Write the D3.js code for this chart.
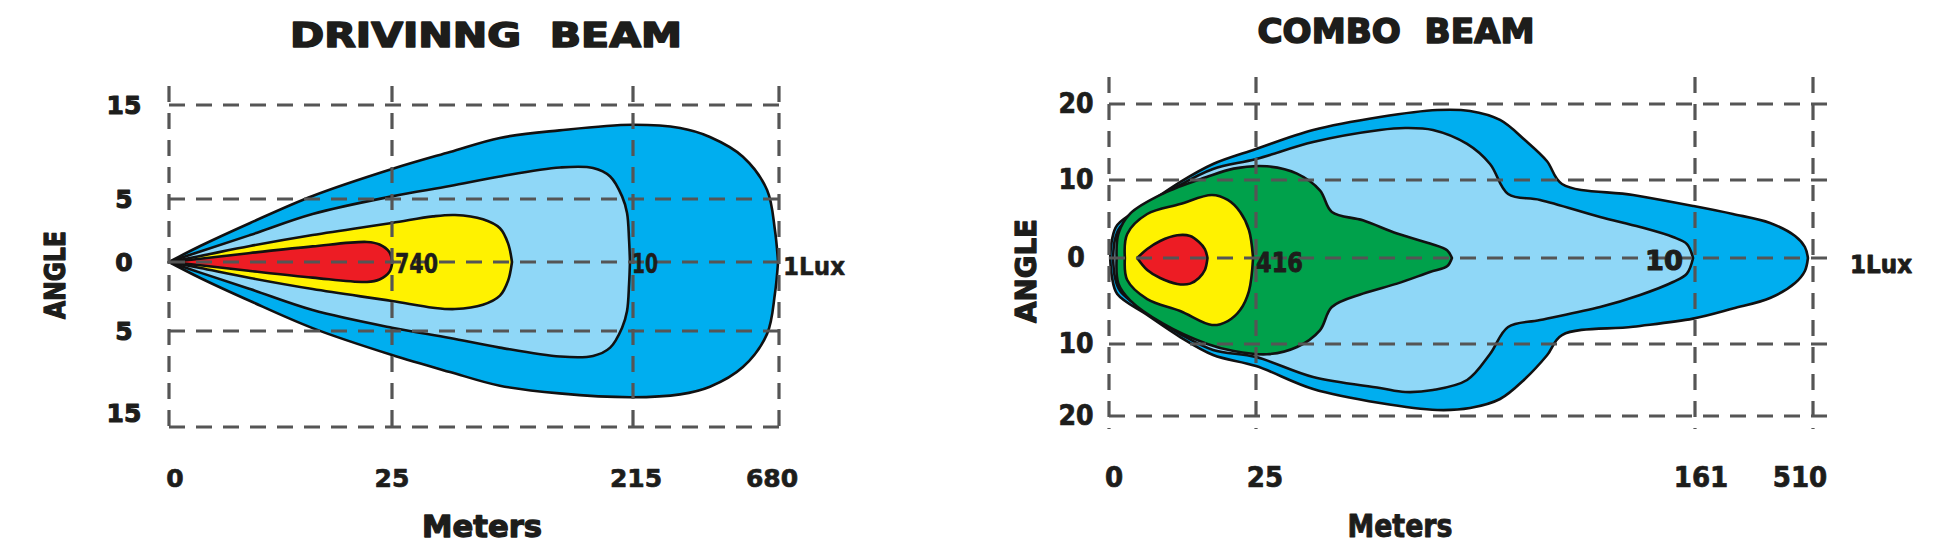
<!DOCTYPE html>
<html><head><meta charset="utf-8">
<script src="https://cdn.jsdelivr.net/npm/d3@7"></script>
<style>body{margin:0;background:#fff;} svg{display:block} text{white-space:pre}</style>
</head><body>
<svg id="chart" width="1946" height="554"></svg>
<script>
// ---------- DATA ----------
// Driving beam
const driveTitle = "DRIVINNG  BEAM";
const driveXTicks = [0, 25, 215, 680];
const driveYTicks = [15, 5, 0, -5, -15];
const driveYTickLabels = ["15", "5", "0", "5", "15"];
// contour profiles: [meters, upper angle, lower angle]
const driveOuter = [[0,0,0],[3.5,1.27,1.16],[9.1,3.1,2.83],[16.1,5.32,4.79],[25,8.19,7.5],[70.7,10.0,9.27],[110,11.5,10.7],[157,12.3,11.5],[214,12.9,11.9],[365,12.55,11.6],[460,11.6,10.8],[565,9.5,8.75],[642,5.96,5.3],[667,2.54,2.3],[677,0,0]];
const driveTen = [[0,0,0],[3.5,0.84,0.77],[9.1,2.14,1.96],[16.1,3.81,3.48],[25,5.28,4.76],[70.7,6.38,5.73],[110,7.4,6.73],[157.5,8.35,7.66],[183.5,8.3,7.6],[197,7.4,6.73],[206.4,5.28,4.76],[210.3,3.89,3.55],[211.9,1.75,1.6],[212.6,0,0]];
const driveYellow = [[0,0,0],[3.5,0.48,0.44],[9.1,1.27,1.16],[16.1,2.14,1.96],[25,3.1,2.83],[57.3,3.62,3.31],[74.7,3.73,3.41],[96.7,3.39,3.1],[110.1,2.68,2.44],[116.5,1.48,1.36],[119.6,0,0]];
const driveRed = [[0,0,0],[3.5,0.26,0.24],[9.1,0.71,0.65],[16.1,1.24,1.13],[22.2,1.59,1.45],[23.6,1.39,1.27],[24.7,0.79,0.73],[25.3,0,0]];
const driveLuxLabels = ["740", "10", "1Lux"];
const driveLuxAt = [25, 215, 680];

// Combo beam
const comboTitle = "COMBO  BEAM";
const comboXTicks = [0, 25, 161, 510];
const comboYTicks = [20, 10, 0, -10, -20];
const comboYTickLabels = ["20", "10", "0", "10", "20"];
const comboOuter = [[0.2,0,0],[0.5,2.31,2.21],[1.4,4.23,4.19],[6.5,6.92,6.63],[12.1,9.74,9.19],[17.7,12.11,11.53],[25,14.08,13.06],[42.7,16.58,16.25],[63.4,18.29,18.2],[81.1,19.21,19.17],[91.3,19.08,18.89],[100.6,17.9,17.64],[108.3,15.26,14.86],[115.1,12.5,11.6],[119.8,9.49,8.96],[141.8,8.08,7.99],[160.4,6.67,7.05],[273,5.64,5.88],[383,4.49,4.65],[457,2.82,2.91],[486,1.41,1.51],[495,0,0]];
const comboTen = [[0.7,0,0],[1.0,2.31,2.21],[1.9,3.97,3.84],[6.5,6.67,6.4],[12.1,9.36,8.84],[17.7,11.45,10.83],[25,12.76,11.81],[42.7,15.0,14.58],[63.4,16.58,16.11],[71.2,16.84,16.67],[79.8,16.58,16.39],[90.4,14.74,15.0],[97.5,12.11,11.39],[103.1,8.2,8.02],[113,7.44,7.21],[131.6,5.26,5.7],[144,3.97,4.3],[154.2,2.69,2.79],[158.5,1.79,1.81],[160.4,0,0]];
const comboGreen = [[1.3,0,0],[1.6,3.13,2.98],[3.6,5.69,4.92],[9.2,8.26,7.63],[16.6,10.39,9.96],[21.2,11.5,10.97],[28.4,11.8,11.43],[37.7,10.84,10.42],[44.8,8.68,8.41],[48.5,5.9,5.7],[58.1,4.83,4.14],[68.7,3.13,2.98],[78.9,1.85,1.63],[84.2,0.99,0.97],[85.7,0,0]];
const comboYellow = [[2.7,0,0],[3.1,3.08,2.56],[6.5,5.64,4.77],[12.1,6.92,6.16],[17.5,8.08,7.79],[20.2,7.44,7.33],[22.3,5.9,6.05],[23.8,3.59,3.84],[24.5,0,0]];
const comboRed = [[4.8,0,0],[6.5,1.15,1.4],[8.7,2.18,2.33],[11.6,2.91,3.02],[13.8,2.82,2.98],[15.3,2.05,2.33],[16.3,1.15,1.4],[16.75,0,0]];
const comboLuxLabels = ["416", "10", "1Lux"];
const comboLuxAt = [25, 161, 510];

const xAxisTitle = "Meters";
const yAxisTitle = "ANGLE";

// ---------- DRAWING ----------
const svg = d3.select("#chart");
const HEAVY = "'DejaVu Sans', 'Liberation Sans', sans-serif";
const NARROW = "'Liberation Sans Narrow', 'DejaVu Sans Condensed', 'Liberation Sans', sans-serif";
const INK = "#1d1d1b";
const C = {outer:"#00aeef", ten:"#8fd7f7", green:"#00a14b", yellow:"#fff200", red:"#ed1c24"};

function txt(g, s, x, y, o) {
  const t = g.append("text").attr("x", x).attr("y", y)
    .attr("text-anchor", o.anchor || "middle")
    .attr("font-family", o.family).attr("font-size", o.size).attr("font-weight", 700)
    .attr("fill", INK).text(s);
  if (o.len) t.attr("textLength", o.len).attr("lengthAdjust", "spacingAndGlyphs");
  if (o.stroke) t.attr("stroke", INK).attr("stroke-width", o.stroke).attr("stroke-linejoin", "round");
  if (o.rotate) t.attr("transform", `rotate(-90,${x},${y})`);
  return t;
}

function drawChart(cfg) {
  const g = svg.append("g");
  const x = d3.scaleLinear().domain(cfg.xTicks).range(cfg.xRange);
  const y = d3.scaleLinear().domain(cfg.yTicks).range(cfg.yRange);
  const area = d3.area()
    .x(d => x(d[0])).y1(d => y(d[1])).y0(d => y(-d[2]))
    .curve(d3.curveCatmullRom.alpha(0.5));
  cfg.shapes.forEach(s => {
    g.append("path").datum(s.data).attr("d", area)
      .attr("fill", s.color).attr("stroke", "#111").attr("stroke-width", 2.6)
      .attr("stroke-linejoin", "round");
  });
  // grid
  const grid = g.append("g").attr("stroke", "#555").attr("stroke-width", 3.2)
    .attr("stroke-dasharray", "16,11").attr("fill", "none");
  const x0 = x(cfg.xTicks[0]);
  cfg.yTicks.forEach(v => grid.append("line")
    .attr("x1", x0).attr("x2", cfg.hEnd).attr("y1", y(v)).attr("y2", y(v)));
  cfg.xTicks.forEach(v => grid.append("line")
    .attr("x1", x(v)).attr("x2", x(v)).attr("y1", cfg.vTop).attr("y2", cfg.vBottom));
  // tick labels
  cfg.yTicks.forEach((v, i) => txt(g, cfg.yTickLabels[i], cfg.yLabelX, y(v) + cfg.yLabelDy[i], cfg.yTickFont));
  cfg.xTicks.forEach((v, i) => txt(g, String(v), x(v) + cfg.xLabelDx[i], cfg.xLabelY, cfg.xTickFont));
  // lux labels
  cfg.luxLabels.forEach((s, i) => {
    const o = cfg.luxFonts[i];
    txt(g, s, x(cfg.luxAt[i]) + o.dx, o.y, o);
  });
  // titles
  txt(g, cfg.title, cfg.titleX, cfg.titleY, cfg.titleFont);
  txt(g, xAxisTitle, cfg.metersX, 537, cfg.metersFont);
  txt(g, yAxisTitle, cfg.angleX, cfg.angleY, cfg.angleFont);
}

drawChart({
  title: driveTitle, titleX: 486, titleY: 47,
  titleFont: {family: HEAVY, size: 33, len: 392, stroke: 1.6},
  xTicks: driveXTicks, xRange: [169, 392, 633, 779],
  yTicks: driveYTicks, yRange: [105, 199, 262, 331, 427], yTickLabels: driveYTickLabels,
  hEnd: 789, vTop: 86, vBottom: 433,
  shapes: [{data: driveOuter, color: C.outer}, {data: driveTen, color: C.ten},
           {data: driveYellow, color: C.yellow}, {data: driveRed, color: C.red}],
  yLabelX: 124, yLabelDy: [9, 9, 9, 9, -5], yTickFont: {family: HEAVY, size: 25, stroke: 1.1},
  xLabelY: 487, xLabelDx: [6, 0, 3, -7], xTickFont: {family: HEAVY, size: 25, stroke: 0.7},
  luxLabels: driveLuxLabels, luxAt: driveLuxAt,
  luxFonts: [{family: NARROW, size: 27, anchor: "start", dx: 3, y: 273, len: 43, stroke: 0.5},
             {family: NARROW, size: 27, anchor: "start", dx: -1, y: 273, len: 26, stroke: 0.5},
             {family: NARROW, size: 25, anchor: "start", dx: 4, y: 275, len: 62, stroke: 0.5}],
  metersX: 482, metersFont: {family: HEAVY, size: 30, len: 120, stroke: 1.3},
  angleX: 65, angleY: 275, angleFont: {family: HEAVY, size: 29, len: 88, stroke: 1.3, rotate: true}
});

drawChart({
  title: comboTitle, titleX: 1396, titleY: 43,
  titleFont: {family: HEAVY, size: 34, len: 277, stroke: 1.6},
  xTicks: comboXTicks, xRange: [1109, 1256, 1695, 1813],
  yTicks: comboYTicks, yRange: [104, 180, 258, 344, 416], yTickLabels: comboYTickLabels,
  hEnd: 1837, vTop: 77, vBottom: 429,
  shapes: [{data: comboOuter, color: C.outer}, {data: comboTen, color: C.ten},
           {data: comboGreen, color: C.green}, {data: comboYellow, color: C.yellow},
           {data: comboRed, color: C.red}],
  yLabelX: 1076, yLabelDy: [9, 9, 9, 9, 9], yTickFont: {family: NARROW, size: 28, stroke: 0.7},
  xLabelY: 487, xLabelDx: [5, 9, 6, -13], xTickFont: {family: NARROW, size: 29, stroke: 0.7},
  luxLabels: comboLuxLabels, luxAt: comboLuxAt,
  luxFonts: [{family: HEAVY, size: 26, anchor: "start", dx: 0, y: 272, len: 47, stroke: 0.9},
             {family: HEAVY, size: 26, anchor: "end", dx: -12, y: 270, len: 38, stroke: 1.1},
             {family: HEAVY, size: 24, anchor: "start", dx: 37, y: 273, len: 62, stroke: 0.9}],
  metersX: 1400, metersFont: {family: NARROW, size: 32, len: 105, stroke: 0.9},
  angleX: 1036, angleY: 271, angleFont: {family: HEAVY, size: 29, len: 104, stroke: 1.3, rotate: true}
});
</script>
</body></html>
